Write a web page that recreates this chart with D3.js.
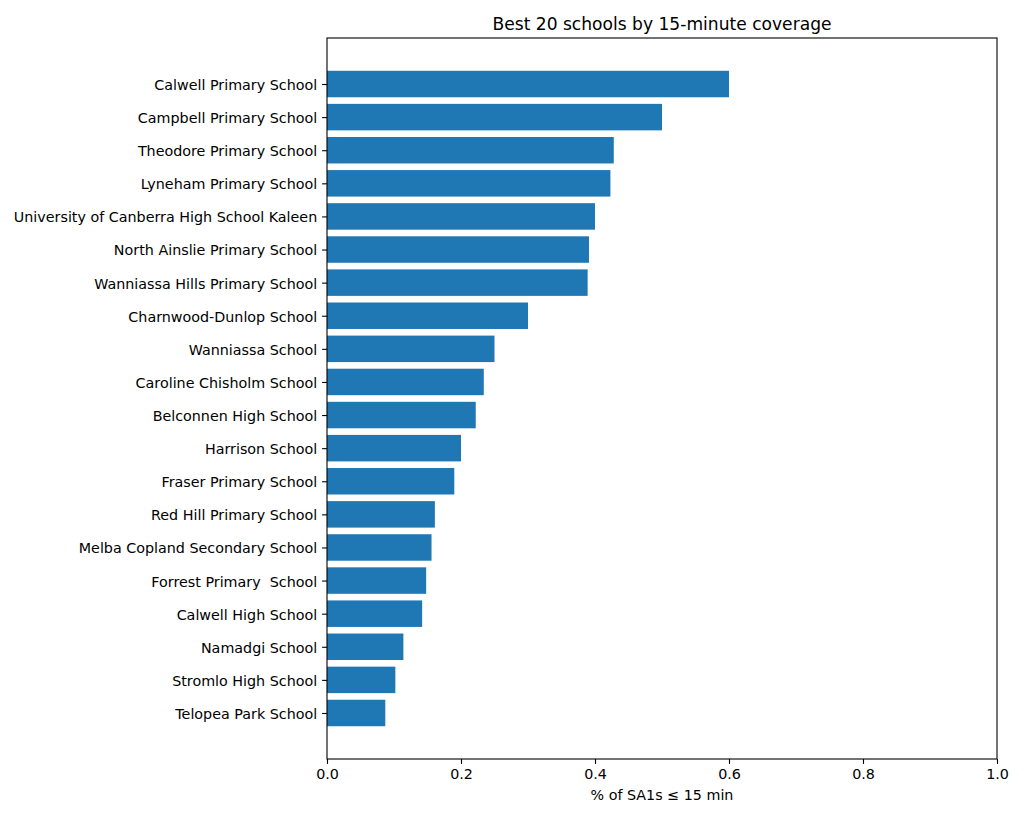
<!DOCTYPE html>
<html>
<head>
<meta charset="utf-8">
<script src="https://cdn.jsdelivr.net/npm/d3@7"></script>
<style>
  html, body { margin: 0; padding: 0; background: #fff; }
  svg { display: block; font-family: "DejaVu Sans", sans-serif; }
</style>
</head>
<body>
<svg id="chart" width="1024" height="819"></svg>
<script>
const schools = [
  "Calwell Primary School",
  "Campbell Primary School",
  "Theodore Primary School",
  "Lyneham Primary School",
  "University of Canberra High School Kaleen",
  "North Ainslie Primary School",
  "Wanniassa Hills Primary School",
  "Charnwood-Dunlop School",
  "Wanniassa School",
  "Caroline Chisholm School",
  "Belconnen High School",
  "Harrison School",
  "Fraser Primary School",
  "Red Hill Primary School",
  "Melba Copland Secondary School",
  "Forrest Primary  School",
  "Calwell High School",
  "Namadgi School",
  "Stromlo High School",
  "Telopea Park School"
];
const coverage = [
  0.600, 0.500, 0.428, 0.423, 0.400, 0.391, 0.389, 0.300, 0.250, 0.234,
  0.222, 0.200, 0.190, 0.161, 0.156, 0.148, 0.142, 0.114, 0.102, 0.087
];
const xTicks = [0.0, 0.2, 0.4, 0.6, 0.8, 1.0];
const title = "Best 20 schools by 15-minute coverage";
const xLabel = "% of SA1s \u2264 15 min";

const svg = d3.select("#chart");
const L = 327, R = 997, T = 38, B = 759;
const n = schools.length;
const barH = 0.8;
const lo = -barH / 2, hi = n - 1 + barH / 2;
const m = (hi - lo) * 0.05;
const fs = 14.3;

const x = d3.scaleLinear().domain([0, 1]).range([L, R]);
const y = d3.scaleLinear().domain([lo - m, hi + m]).range([T, B]);

// bars
svg.append("g").selectAll("rect").data(coverage).join("rect")
  .attr("x", x(0))
  .attr("y", (d, i) => y(i - barH / 2))
  .attr("width", d => x(d) - x(0))
  .attr("height", (d, i) => y(i + barH / 2) - y(i - barH / 2))
  .attr("fill", "#1f77b4");

// x axis
const xAxis = d3.axisBottom(x).tickValues(xTicks).tickFormat(d3.format(".1f"))
  .tickSize(4.9).tickPadding(4.9);
const gx = svg.append("g").attr("transform", `translate(0,${B})`).call(xAxis);
gx.select(".domain").remove();
gx.selectAll("line").attr("stroke", "#000").attr("stroke-width", 1.1);
gx.selectAll("text").attr("font-size", fs).attr("fill", "#000")
  .attr("font-family", "DejaVu Sans, sans-serif");

// y axis
const yAxis = d3.axisLeft(y).tickValues(d3.range(n)).tickFormat(i => schools[i])
  .tickSize(4.9).tickPadding(4.9);
const gy = svg.append("g").attr("transform", `translate(${L},0)`).call(yAxis);
gy.select(".domain").remove();
gy.selectAll("line").attr("stroke", "#000").attr("stroke-width", 1.1);
gy.selectAll("text").attr("font-size", fs).attr("fill", "#000").attr("dy", "0.38em")
  .attr("font-family", "DejaVu Sans, sans-serif").style("white-space", "pre");

// frame
svg.append("rect").attr("x", L).attr("y", T).attr("width", R - L).attr("height", B - T)
  .attr("fill", "none").attr("stroke", "#000").attr("stroke-width", 1.1);

// title
svg.append("text").attr("x", (L + R) / 2).attr("y", 30)
  .attr("text-anchor", "middle").attr("font-size", 17.1).attr("fill", "#000")
  .text(title);

// x label
svg.append("text").attr("x", (L + R) / 2).attr("y", 800)
  .attr("text-anchor", "middle").attr("font-size", fs).attr("fill", "#000")
  .text(xLabel);
</script>
</body>
</html>
